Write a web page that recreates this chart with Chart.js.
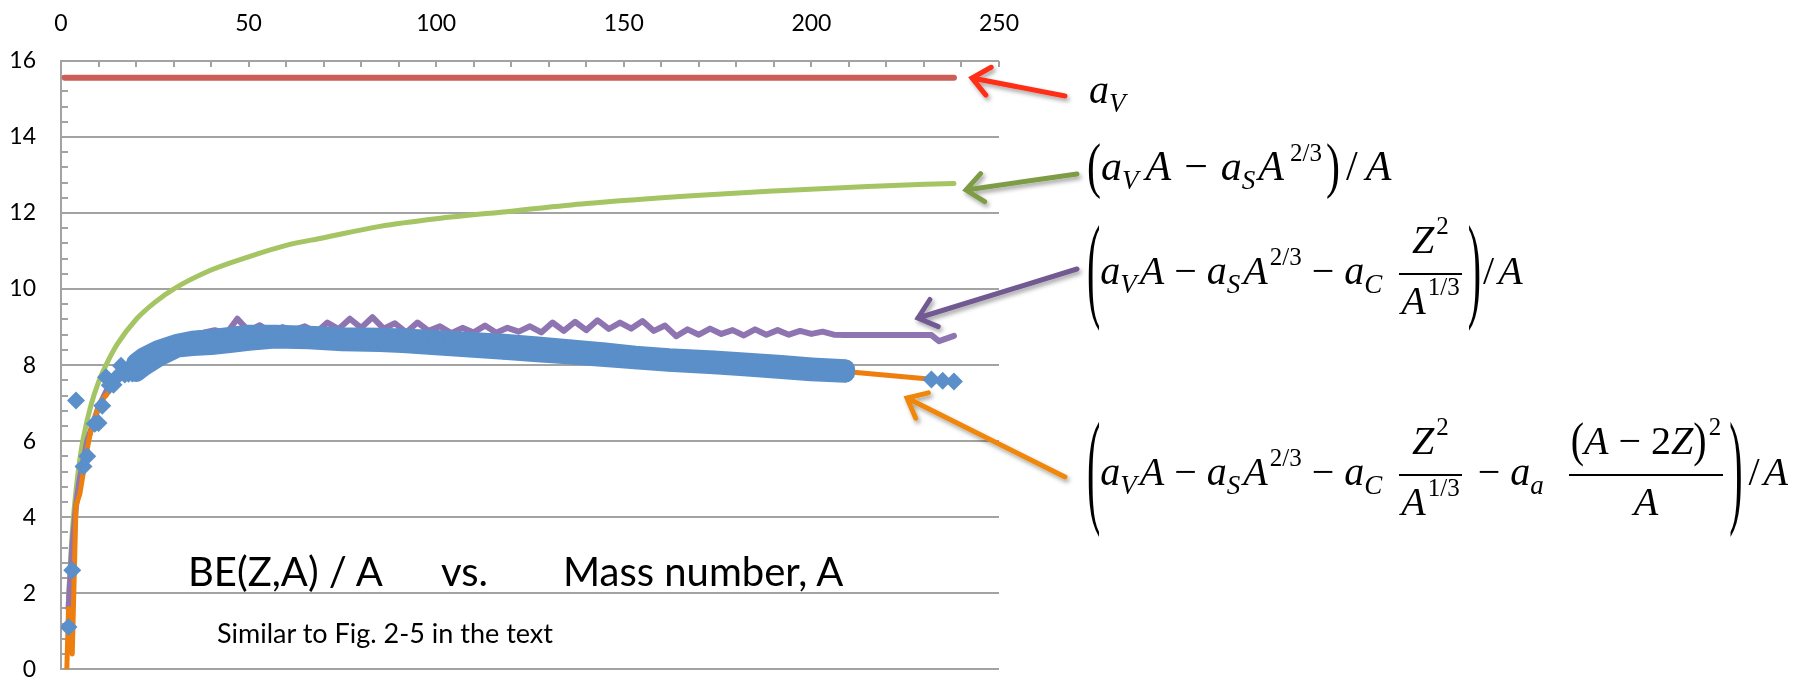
<!DOCTYPE html>
<html>
<head>
<meta charset="utf-8">
<script src="https://cdn.jsdelivr.net/npm/chart.js@4.4.1/dist/chart.umd.min.js"></script>
<style>
  html, body { margin: 0; padding: 0; background: #fff; }
  body { width: 1813px; height: 679px; position: relative; overflow: hidden; }
  #wrap { position: absolute; left: 0; top: 0; width: 1043px; height: 708px; }
  #arrows { position: absolute; left: 0; top: 0; pointer-events: none; }
  .lbl { position: absolute; font-family: Lato, sans-serif; color: #000; white-space: pre; line-height: 1; }
  .eq { position: absolute; font: italic 40px 'Liberation Serif', 'Times New Roman', serif; line-height: 130px; white-space: nowrap; color: #000; }
  .s { font-size: 27px; position: relative; top: 9px; margin-right: 3px; }
  .p { font-size: 25px; font-style: normal; position: relative; top: -19px; margin-left: 2px; }
  .m { font-style: normal; margin: 0 10px; }
  .n { font-style: normal; margin: 0 4px 0 2px; }
  .bp { display: inline-block; font-style: normal; line-height: 40px; transform-origin: 50% 54%; }
  .fr { display: inline-block; vertical-align: -29.5px; text-align: center; margin: 0 6px 0 14px; }
  .fr > .nu { display: block; line-height: 40px; padding: 0 2px 8px; }
  .fr > .de { display: block; line-height: 40px; padding: 6px 2px 0; border-top: 2px solid #000; }
</style>
</head>
<body>
<div id="wrap"><canvas id="beChart"></canvas></div>
<svg id="arrows" width="1813" height="679"></svg>

<div class="lbl" style="left:188px; top:551px; font-size:40px">BE(Z,A) / A</div>
<div class="lbl" style="left:441px; top:551px; font-size:40px">vs.</div>
<div class="lbl" style="left:563px; top:551px; font-size:40px">Mass number, A</div>
<div class="lbl" style="left:217px; top:619px; font-size:27px">Similar to Fig. 2-5 in the text</div>

<div class="eq" style="left:1089px; top:25px">a<span class="s">V</span></div>

<div class="eq" style="left:1087px; top:101px; font-size:42px"><span class="bp" style="transform:scaleY(1.45)">(</span>a<span class="s" style="margin-right:7px">V</span>A<span class="m" style="margin:0 13px">−</span>a<span class="s">S</span>A<span class="p" style="margin-left:6px">2/3</span><span class="bp" style="transform:scaleY(1.45); margin-left:4px">)</span><span class="n" style="margin:0 8px 0 6px">/</span>A</div>

<div class="eq" style="left:1087px; top:206px"><span class="bp" style="transform:scaleY(2.9)">(</span>a<span class="s">V</span>A<span class="m">−</span>a<span class="s">S</span>A<span class="p">2/3</span><span class="m">−</span>a<span class="s">C</span><span class="fr"><span class="nu">Z<span class="p">2</span></span><span class="de">A<span class="p">1/3</span></span></span><span class="bp" style="transform:scaleY(2.9)">)</span><span class="n">/</span>A</div>

<div class="eq" style="left:1087px; top:407px"><span class="bp" style="transform:scaleY(3.2)">(</span>a<span class="s">V</span>A<span class="m">−</span>a<span class="s">S</span>A<span class="p">2/3</span><span class="m">−</span>a<span class="s">C</span><span class="fr"><span class="nu">Z<span class="p">2</span></span><span class="de">A<span class="p">1/3</span></span></span><span class="m">−</span>a<span class="s">a</span><span class="fr" style="margin-left:22px"><span class="nu"><span class="bp" style="transform:scaleY(1.2)">(</span>A<span class="m">−</span><span style="font-style:normal">2</span>Z<span class="bp" style="transform:scaleY(1.2)">)</span><span class="p">2</span></span><span class="de">A</span></span><span class="bp" style="transform:scaleY(3.2)">)</span><span class="n" style="margin:0 4px 0 6px">/</span>A</div>

<script>
// ---- data (A = mass number, values = binding energy per nucleon, MeV) ----
const lightA  = [2, 3, 4, 6, 7, 9, 10, 11, 12, 13, 14, 15, 16, 17, 18, 19, 20];
const lightBE = [1.11, 2.6, 7.07, 5.33, 5.6, 6.46, 6.48, 6.93, 7.68, 7.47, 7.48, 7.7, 7.98, 7.75, 7.77, 7.78, 8.03];

const bandA  = [20, 22, 26, 31, 35, 40, 45, 50, 57, 66, 75, 85, 91, 100, 109, 118, 127, 136, 145, 153, 162, 174, 183, 192, 200, 209];
const bandHi = [8.05, 8.2, 8.4, 8.56, 8.64, 8.68, 8.74, 8.8, 8.8, 8.77, 8.73, 8.72, 8.7, 8.66, 8.61, 8.56, 8.49, 8.41, 8.33, 8.25, 8.18, 8.12, 8.06, 8.0, 7.94, 7.89];
const bandLo = [7.82, 7.97, 8.22, 8.46, 8.5, 8.53, 8.58, 8.64, 8.7, 8.68, 8.63, 8.61, 8.58, 8.52, 8.46, 8.4, 8.34, 8.28, 8.21, 8.15, 8.09, 8.02, 7.96, 7.9, 7.84, 7.8];

const heavyA  = [232, 235, 238];
const heavyBE = [7.62, 7.59, 7.57];

const volumeA  = [1, 50, 100, 150, 200, 238];
const volumeBE = [15.56, 15.56, 15.56, 15.56, 15.56, 15.56];

const surfaceA  = [2, 3, 4, 5, 6, 8, 10, 12, 15, 20, 25, 30, 40, 50, 60, 70, 85, 100, 120, 140, 167, 190, 215, 238];
const surfaceBE = [1.9, 3.6, 4.7, 5.5, 6.1, 6.95, 7.55, 8.0, 8.55, 9.2, 9.65, 10.0, 10.5, 10.85, 11.15, 11.35, 11.65, 11.85, 12.05, 12.25, 12.45, 12.58, 12.7, 12.78];

const coulombA = [2, 3, 4, 5, 6, 7, 8, 9, 10, 12, 14, 16, 18, 20, 23, 26, 29, 32, 35,
  38, 41, 44, 47, 50, 53, 56, 59, 62, 65, 68, 71, 74, 77, 80, 83, 86, 89, 92, 95, 98,
  101, 104, 107, 110, 113, 116, 119, 122, 125, 128, 131, 134, 137, 140, 143, 146, 149,
  152, 155, 158, 161, 164, 167, 170, 173, 176, 179, 182, 185, 188, 191, 194, 197, 200,
  203, 206, 209, 232, 234, 238];
const coulombBE = [1.6, 3.2, 4.3, 5.0, 5.5, 6.0, 6.3, 6.6, 6.9, 7.3, 7.6, 7.85, 8.0, 8.2, 8.4, 8.5, 8.6, 8.7, 8.8,
  8.85, 8.92, 8.82, 9.22, 8.9, 9.05, 8.86, 9.0, 8.92, 9.02, 8.86, 9.12, 8.95, 9.22, 8.98, 9.26, 8.96, 9.1, 8.86, 9.12, 8.9,
  9.02, 8.84, 8.98, 8.86, 9.04, 8.85, 8.98, 8.88, 9.02, 8.86, 9.12, 8.9, 9.14, 8.92, 9.18, 8.95, 9.12,
  8.96, 9.16, 8.9, 9.04, 8.76, 8.94, 8.8, 8.96, 8.82, 8.92, 8.78, 8.94, 8.8, 8.92, 8.8, 8.9, 8.82,
  8.88, 8.8, 8.79, 8.79, 8.63, 8.77];

const fullA  = [1, 2, 3, 4, 5, 6, 7, 8, 9, 10, 11, 12, 14, 16, 20, 30, 40, 60, 90, 120, 150, 180, 209, 232, 235, 238];
const fullBE = [-2, 1.6, 0.4, 4.3, 4.6, 5.2, 5.8, 6.3, 6.6, 6.9, 7.1, 7.2, 7.5, 7.8, 8.0, 8.5, 8.6, 8.7, 8.6, 8.45, 8.2, 8.0, 7.83, 7.63, 7.6, 7.57];

const xTicks = [0, 50, 100, 150, 200, 250];
const yTicks = [0, 2, 4, 6, 8, 10, 12, 14, 16];

// ---- styling ----
const gray = '#a3a3a3';
const blue = '#5b8fc9';
const pts = (xs, ys) => xs.map((x, i) => ({ x: x, y: ys[i] }));

const lineSet = (data, color, width) => ({
  data: data, showLine: true, borderColor: color, backgroundColor: color,
  borderWidth: width, pointRadius: 0, borderCapStyle: 'round', borderJoinStyle: 'round'
});

const minorTicks = {
  id: 'minorTicks',
  beforeDatasetsDraw(chart) {
    const { ctx, chartArea, scales: { x, y } } = chart;
    ctx.save();
    ctx.strokeStyle = gray;
    ctx.lineWidth = 2;
    ctx.beginPath();
    for (let v = 0; v <= 250; v += 10) {
      const px = Math.round(x.getPixelForValue(v));
      ctx.moveTo(px, chartArea.top);
      ctx.lineTo(px, chartArea.top + 6);
    }
    for (let i = 0; i <= 40; i++) {
      const py = Math.round(y.getPixelForValue(i * 0.4));
      ctx.moveTo(chartArea.left, py);
      ctx.lineTo(chartArea.left + 7, py);
    }
    ctx.stroke();
    ctx.restore();
  }
};

function drawChart() {
  new Chart(document.getElementById('beChart'), {
    type: 'scatter',
    data: {
      datasets: [
        { data: pts(lightA, lightBE), pointStyle: 'rectRot', pointRadius: 9, pointBorderWidth: 0,
          pointBackgroundColor: blue, backgroundColor: blue, showLine: false },
        Object.assign(lineSet(pts(bandA, bandHi), blue, 20),
          { pointStyle: 'rectRot', pointRadius: 10, pointBorderWidth: 0, pointBackgroundColor: blue }),
        Object.assign(lineSet(pts(bandA, bandLo), blue, 20),
          { pointStyle: 'rectRot', pointRadius: 10, pointBorderWidth: 0, pointBackgroundColor: blue, fill: '-1' }),
        { data: pts(heavyA, heavyBE), pointStyle: 'rectRot', pointRadius: 9, pointBorderWidth: 0,
          pointBackgroundColor: blue, backgroundColor: blue, showLine: false },
        lineSet(pts(fullA, fullBE), '#ee7f0e', 5),
        lineSet(pts(coulombA, coulombBE), '#8e75b2', 6),
        Object.assign(lineSet(pts(surfaceA, surfaceBE), '#a5c464', 5), { cubicInterpolationMode: 'monotone' }),
        lineSet(pts(volumeA, volumeBE), '#cc5e58', 6)
      ]
    },
    options: {
      responsive: true,
      maintainAspectRatio: false,
      animation: false,
      events: [],
      // tick paddings (24/25) already reserve the room on the right and at the bottom
      layout: { autoPadding: false, padding: 0 },
      plugins: { legend: { display: false }, tooltip: { enabled: false } },
      scales: {
        x: {
          type: 'linear', position: 'top', min: 0, max: 250,
          afterFit: s => { s.height = 61; },
          afterBuildTicks: s => { s.ticks = xTicks.map(v => ({ value: v })); },
          grid: { display: false, drawTicks: false },
          border: { display: true, color: gray, width: 2 },
          ticks: { padding: 24, color: '#000', font: { family: 'Lato', size: 23 } }
        },
        y: {
          min: 0, max: 16,
          afterFit: s => { s.width = 61; },
          afterBuildTicks: s => { s.ticks = yTicks.map(v => ({ value: v })); },
          grid: { color: gray, lineWidth: 2, drawTicks: false },
          border: { display: true, color: gray, width: 2 },
          ticks: { padding: 25, color: '#000', font: { family: 'Lato', size: 23 } }
        }
      }
    },
    plugins: [minorTicks]
  });
}

function drawArrows() {
  const svg = document.getElementById('arrows');
  let html = '<defs><filter id="sh" x="-20%" y="-50%" width="140%" height="200%">' +
    '<feDropShadow dx="2" dy="3" stdDeviation="2" flood-color="#000" flood-opacity="0.35"/></filter></defs>';
  const list = [
    [1065, 96, 972, 78, '#ff2d14'],
    [1077, 174, 966, 190, '#7e9c45'],
    [1077, 269, 918, 318, '#705a91'],
    [1065, 477, 907, 398, '#f0870a']
  ];
  list.forEach(([x1, y1, x2, y2, c]) => {
    const dx = x1 - x2, dy = y1 - y2, len = Math.hypot(dx, dy);
    const ux = dx / len, uy = dy / len, L = 22, co = Math.cos(0.7), si = Math.sin(0.7);
    const ax = x2 + L * (ux * co - uy * si), ay = y2 + L * (ux * si + uy * co);
    const bx = x2 + L * (ux * co + uy * si), by = y2 + L * (-ux * si + uy * co);
    html += `<path filter="url(#sh)" d="M${x1} ${y1} L${x2} ${y2} M${ax} ${ay} L${x2} ${y2} L${bx} ${by}" ` +
      `stroke="${c}" stroke-width="5" fill="none" stroke-linecap="round" stroke-linejoin="miter"/>`;
  });
  svg.innerHTML = html;
}

drawArrows();
document.fonts.load('23px Lato').then(drawChart, drawChart);
</script>
</body>
</html>
